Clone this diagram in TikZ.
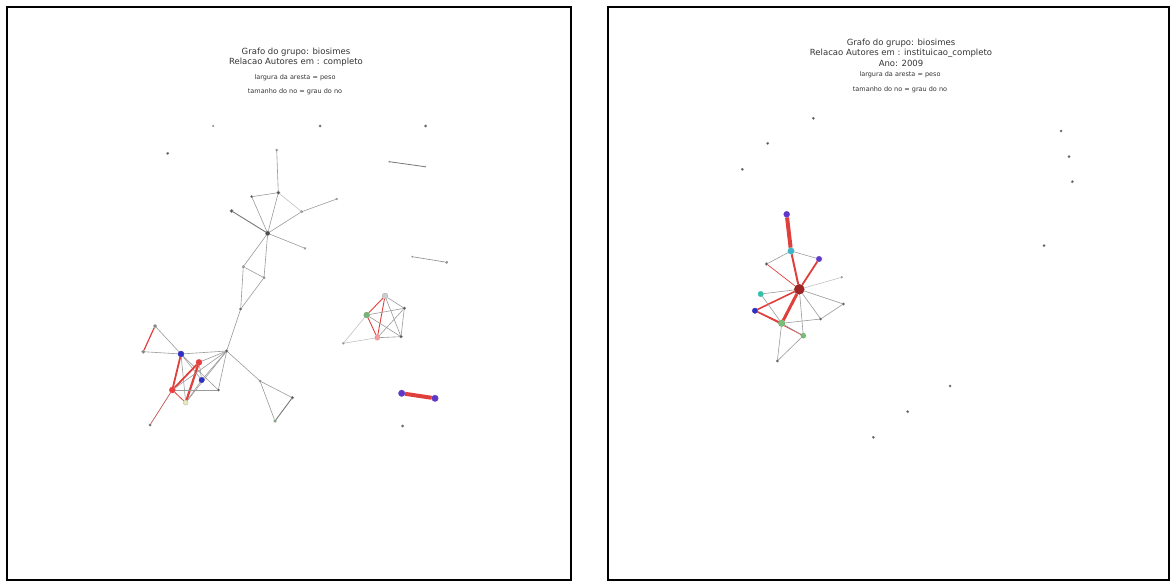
\documentclass[tikz,border=0pt]{standalone}
\usepackage{fontspec}
\setmainfont{DejaVu Sans}
\usepackage{xcolor}
\definecolor{ink}{HTML}{333333}
\definecolor{edgegray}{HTML}{9A9A9A}
\definecolor{edgered}{HTML}{E0403C}
\definecolor{nodegray}{HTML}{555555}
\definecolor{nodeblue}{HTML}{3030C0}
\definecolor{nodepurple}{HTML}{6038C8}
\definecolor{nodecyan}{HTML}{40B4C8}
\definecolor{nodegreen}{HTML}{78C078}
\definecolor{nodered}{HTML}{E84040}
\definecolor{nodedark}{HTML}{A02424}
\definecolor{nodepale}{HTML}{E8E8B8}
\usepackage{tikz}
\usetikzlibrary{backgrounds}
\tikzset{
    frame/.style={draw=black, line width=1.6pt},
    title/.style={font=\fontsize{8.5}{10.5}\selectfont, text=ink, align=center, inner sep=0pt},
    legend/.style={font=\fontsize{6.5}{8}\selectfont, text=ink, align=center, inner sep=0pt},
    vtx/.style={circle, inner sep=0pt, minimum size=2.6pt, fill=nodegray, draw=nodegray!70, line width=0.3pt},
    bigvtx/.style={vtx, minimum size=6pt},
    lnk/.style={draw=edgegray, line width=0.6pt},
    rlnk/.style={draw=edgered, line width=1.3pt},
    fatlnk/.style={draw=edgered, line width=4pt}
}

\begin{document}
\begin{tikzpicture}[x=1pt, y=-1pt]
  \useasboundingbox (0,0) rectangle (1172,585);

  % Frames
  \draw[frame] (7,7) rectangle (571,580);
  \draw[frame] (608,7) rectangle (1169,580);

  % Left titles
  \node[title] (ltitle) at (296,57) {Grafo do grupo: biosimes\\Relacao Autores em : completo};
  \node[legend] (lleg1) at (295,78) {largura da aresta = peso};
  \node[legend] (lleg2) at (295,91.5) {tamanho do no = grau do no};

  % Right titles
  \node[title] (rtitle) at (901,52.5) {Grafo do grupo: biosimes\\Relacao Autores em : instituicao\_completo\\Ano: 2009};
  \node[legend] (rleg1) at (900,74.5) {largura da aresta = peso};
  \node[legend] (rleg2) at (900,89.5) {tamanho do no = grau do no};

  % Left graph: upper tree
  \node[vtx, minimum size=2pt, fill=nodegray!60] (Ltop) at (276.7,150) {};
  \node[vtx, minimum size=3.5pt] (Lb) at (278.3,192.7) {};
  \node[vtx, minimum size=2.5pt] (Lc) at (251.7,196.7) {};
  \node[vtx, minimum size=3.5pt] (Ld) at (231.7,211) {};
  \node[vtx, minimum size=2.5pt, fill=nodegray!50] (Le) at (301.7,211.7) {};
  \node[vtx, minimum size=2pt, fill=nodegray!40] (Lf) at (336.7,199) {};
  \node[vtx, minimum size=4.5pt, fill=nodegray!90!black] (Lhub) at (267.7,233.3) {};
  \node[vtx, minimum size=2pt, fill=nodegray!40] (Lg) at (305,248.3) {};
  \node[vtx, minimum size=2.5pt, fill=nodegray!60] (Lh) at (243.3,266.7) {};
  \node[vtx, minimum size=2.5pt, fill=nodegray!60] (Li) at (264,277.7) {};
  \node[vtx, minimum size=2.5pt] (Lj) at (240.7,309) {};

  % Left graph: lower cluster
  \node[vtx, minimum size=3pt] (Lk) at (226.7,351) {};
  \node[vtx, minimum size=3.5pt, fill=nodegray!70] (Ll) at (155,326) {};
  \node[vtx, minimum size=3.5pt, fill=nodegray!70] (Lm) at (143.3,351.7) {};
  \node[bigvtx, fill=nodeblue, draw=nodeblue] (Lbl1) at (181,354) {};
  \node[bigvtx, fill=nodered, draw=nodered] (Lr1) at (199,362.3) {};
  \node[bigvtx, minimum size=5.5pt, fill=nodeblue, draw=nodeblue] (Lbl2) at (201.7,380) {};
  \node[bigvtx, fill=nodered, draw=nodered] (Lr2) at (172.3,390) {};
  \node[vtx, minimum size=2.5pt] (Ln) at (218.3,390) {};
  \node[bigvtx, minimum size=5pt, fill=nodepale, draw=nodegray!40] (Lp) at (185.7,402.7) {};
  \node[vtx, minimum size=2.5pt] (Lq) at (150,425) {};
  \node[vtx, minimum size=2.5pt, fill=nodegray!60] (Ls) at (260,381) {};
  \node[vtx, minimum size=3pt] (Lt) at (292.3,397.7) {};
  \node[vtx, minimum size=3pt, fill=nodegreen!70!gray] (Lu) at (275,421) {};

  % Left graph: right cluster
  \node[bigvtx, fill=nodegray!30, draw=nodegray!50] (Cw) at (385,296) {};
  \node[vtx, minimum size=3pt] (Cx) at (404.3,308.3) {};
  \node[bigvtx, fill=nodegreen!80!gray, draw=nodegreen!60!gray] (Cy) at (366.7,315) {};
  \node[vtx, minimum size=3pt] (Cz) at (401,336.7) {};
  \node[bigvtx, minimum size=5pt, fill=nodered!50, draw=nodered!70] (Cv) at (377.3,337.7) {};
  \node[vtx, minimum size=2pt, fill=nodegray!50] (Cu) at (343.3,343.3) {};

  % Left graph: pair and loose edges
  \node[bigvtx, minimum size=6.5pt, fill=nodepurple, draw=nodepurple] (P1) at (401.7,393.3) {};
  \node[bigvtx, minimum size=6.5pt, fill=nodepurple, draw=nodepurple] (P2) at (435,398.3) {};
  \node[vtx, minimum size=1.5pt, fill=nodegray!40] (I1) at (389.3,161.7) {};
  \node[vtx, minimum size=1.5pt, fill=nodegray!40] (I2) at (425,166.7) {};
  \node[vtx, minimum size=1.5pt, fill=nodegray!40] (I3) at (412.3,256.7) {};
  \node[vtx, minimum size=2.5pt, fill=nodegray!60] (I4) at (446.7,262.3) {};

  % Left graph: isolated nodes
  \node[vtx, minimum size=1.8pt, fill=nodegray!40] (Ld1) at (213.3,126) {};
  \node[vtx, minimum size=2.5pt] (Ld2) at (320,126) {};
  \node[vtx, minimum size=2.5pt] (Ld3) at (425.7,126) {};
  \node[vtx, minimum size=2.5pt] (Ld4) at (167.7,153.3) {};
  \node[vtx, minimum size=2.5pt] (Ld5) at (402.7,426) {};

  % Left graph: edges
  \begin{scope}[on background layer]
  \draw[lnk] (Ltop) -- (Lb);
  \draw[lnk] (Lc) -- (Lb);
  \draw[lnk] (Lc) -- (Lhub);
  \draw[lnk] (Lb) -- (Lhub);
  \draw[lnk, draw=edgegray!60] (Lb) -- (Le);
  \draw[lnk] (Lhub) -- (Le);
  \draw[lnk] (Le) -- (Lf);
  \draw[lnk, draw=nodegray!80, line width=0.9pt] (Ld) -- (Lhub);
  \draw[lnk] (Lhub) -- (Lg);
  \draw[lnk] (Lhub) -- (Lh);
  \draw[lnk] (Lhub) -- (Li);
  \draw[lnk] (Lh) -- (Li);
  \draw[lnk] (Lh) -- (Lj);
  \draw[lnk] (Li) -- (Lj);
  \draw[lnk] (Lj) -- (Lk);

  \draw[rlnk, line width=1.2pt] (Ll) -- (Lm);
  \draw[lnk] (Ll) -- (Lbl1);
  \draw[lnk] (Lm) -- (Lbl1);
  \draw[lnk] (Lbl1) -- (Lk);
  \draw[rlnk, line width=1.8pt] (Lbl1) -- (Lr2);
  \draw[lnk] (Lbl1) -- (Lp);
  \draw[lnk] (Lbl1) -- (Lbl2);
  \draw[lnk] (Lbl1) -- (Ln);
  \draw[rlnk, line width=1.8pt] (Lr1) -- (Lr2);
  \draw[rlnk, line width=2.2pt] (Lr1) -- (Lp);
  \draw[lnk] (Lr1) -- (Lbl2);
  \draw[lnk] (Lr1) -- (Lk);
  \draw[rlnk, line width=0.8pt] (Lr2) -- (Lp);
  \draw[lnk] (Lbl2) -- (Lk);
  \draw[lnk] (Lbl2) -- (Lp);
  \draw[lnk] (Lk) -- (Ln);
  \draw[lnk] (Ln) -- (Lr2);
  \draw[lnk] (Lr2) -- (Lk);
  \draw[lnk] (Lp) -- (Lk);
  \draw[rlnk, line width=0.7pt, draw=edgered!70!gray] (Lr2) -- (Lq);
  \draw[lnk] (Lk) -- (Ls);
  \draw[lnk] (Ls) -- (Lt);
  \draw[lnk] (Ls) -- (Lu);
  \draw[lnk, draw=nodegray!80, line width=0.9pt] (Lt) -- (Lu);

  \draw[lnk] (Cw) -- (Cx);
  \draw[rlnk, line width=0.9pt] (Cw) -- (Cy);
  \draw[rlnk, line width=0.9pt] (Cw) -- (Cv);
  \draw[lnk] (Cw) -- (Cz);
  \draw[lnk] (Cy) -- (Cx);
  \draw[rlnk, line width=0.9pt] (Cy) -- (Cv);
  \draw[lnk] (Cy) -- (Cz);
  \draw[lnk, draw=edgegray!60] (Cy) -- (Cu);
  \draw[lnk] (Cx) -- (Cv);
  \draw[lnk] (Cx) -- (Cz);
  \draw[lnk] (Cv) -- (Cz);
  \draw[lnk, draw=edgegray!60] (Cu) -- (Cv);

  \draw[fatlnk] (P1) -- (P2);
  \draw[lnk, draw=nodegray!80, line width=0.8pt] (I1) -- (I2);
  \draw[lnk, draw=nodegray!70, line width=0.6pt] (I3) -- (I4);
  \end{scope}

  % Right graph: star
  \node[bigvtx, fill=nodepurple, draw=nodepurple] (Rp1) at (786.7,214.3) {};
  \node[bigvtx, minimum size=6.5pt, fill=nodecyan, draw=nodecyan] (Rc1) at (791,251) {};
  \node[bigvtx, minimum size=5.5pt, fill=nodepurple, draw=nodepurple] (Rp2) at (819,259) {};
  \node[vtx, minimum size=3pt] (Ra) at (766.7,264) {};
  \node[bigvtx, minimum size=10pt, fill=nodedark, draw=nodedark!80!black] (Rhub) at (799.3,289.3) {};
  \node[vtx, minimum size=1.8pt, fill=nodegray!40] (Rb) at (841.7,277.3) {};
  \node[bigvtx, minimum size=5.5pt, fill=nodecyan!80!green, draw=nodecyan] (Rc2) at (760.7,294) {};
  \node[vtx, minimum size=2.5pt] (Rd) at (843.3,304) {};
  \node[bigvtx, minimum size=5.5pt, fill=nodeblue, draw=nodeblue] (Rp3) at (755,310.7) {};
  \node[vtx, minimum size=2.5pt] (Re) at (820.7,319) {};
  \node[bigvtx, minimum size=6.5pt, fill=nodegreen, draw=nodegreen!80!black] (Rg1) at (781.7,323.3) {};
  \node[bigvtx, minimum size=5pt, fill=nodegreen, draw=nodegreen!80!black] (Rg2) at (803.3,335.7) {};
  \node[vtx, minimum size=2.5pt] (Rf) at (777.3,361) {};

  % Right graph: isolated nodes
  \node[vtx, minimum size=2.5pt] (Rd1) at (813.3,118.3) {};
  \node[vtx, minimum size=2.5pt] (Rd2) at (767.7,143.3) {};
  \node[vtx, minimum size=2.5pt] (Rd3) at (742.3,169.3) {};
  \node[vtx, minimum size=2.5pt] (Rd4) at (1061,131) {};
  \node[vtx, minimum size=2.5pt] (Rd5) at (1069,156.7) {};
  \node[vtx, minimum size=2.5pt] (Rd6) at (1072.3,181.7) {};
  \node[vtx, minimum size=2.5pt] (Rd7) at (1044,245.7) {};
  \node[vtx, minimum size=2.5pt] (Rd8) at (950,386) {};
  \node[vtx, minimum size=2.5pt] (Rd9) at (907.7,411.7) {};
  \node[vtx, minimum size=2.5pt] (Rd10) at (873.3,437.3) {};

  % Right graph: edges
  \begin{scope}[on background layer]
  \draw[fatlnk] (Rp1) -- (Rc1);
  \draw[rlnk, line width=2pt] (Rc1) -- (Rhub);
  \draw[lnk] (Rc1) -- (Ra);
  \draw[lnk] (Rc1) -- (Rp2);
  \draw[rlnk, line width=1.8pt] (Rp2) -- (Rhub);
  \draw[rlnk, line width=0.7pt] (Ra) -- (Rhub);
  \draw[lnk, draw=edgegray!60] (Rhub) -- (Rb);
  \draw[lnk] (Rhub) -- (Rc2);
  \draw[lnk] (Rhub) -- (Rd);
  \draw[rlnk, line width=1.6pt] (Rhub) -- (Rp3);
  \draw[rlnk, line width=3pt] (Rhub) -- (Rg1);
  \draw[lnk] (Rhub) -- (Re);
  \draw[lnk] (Rhub) -- (Rg2);
  \draw[rlnk, line width=1.6pt] (Rp3) -- (Rg1);
  \draw[rlnk, line width=0.8pt] (Rp3) -- (Rg2);
  \draw[lnk] (Rc2) -- (Rg1);
  \draw[lnk] (Rg1) -- (Re);
  \draw[lnk] (Re) -- (Rd);
  \draw[lnk] (Rg1) -- (Rf);
  \draw[lnk] (Rg2) -- (Rf);
  \draw[lnk] (Rg1) -- (Rg2);
  \end{scope}

\end{tikzpicture}
\end{document}
